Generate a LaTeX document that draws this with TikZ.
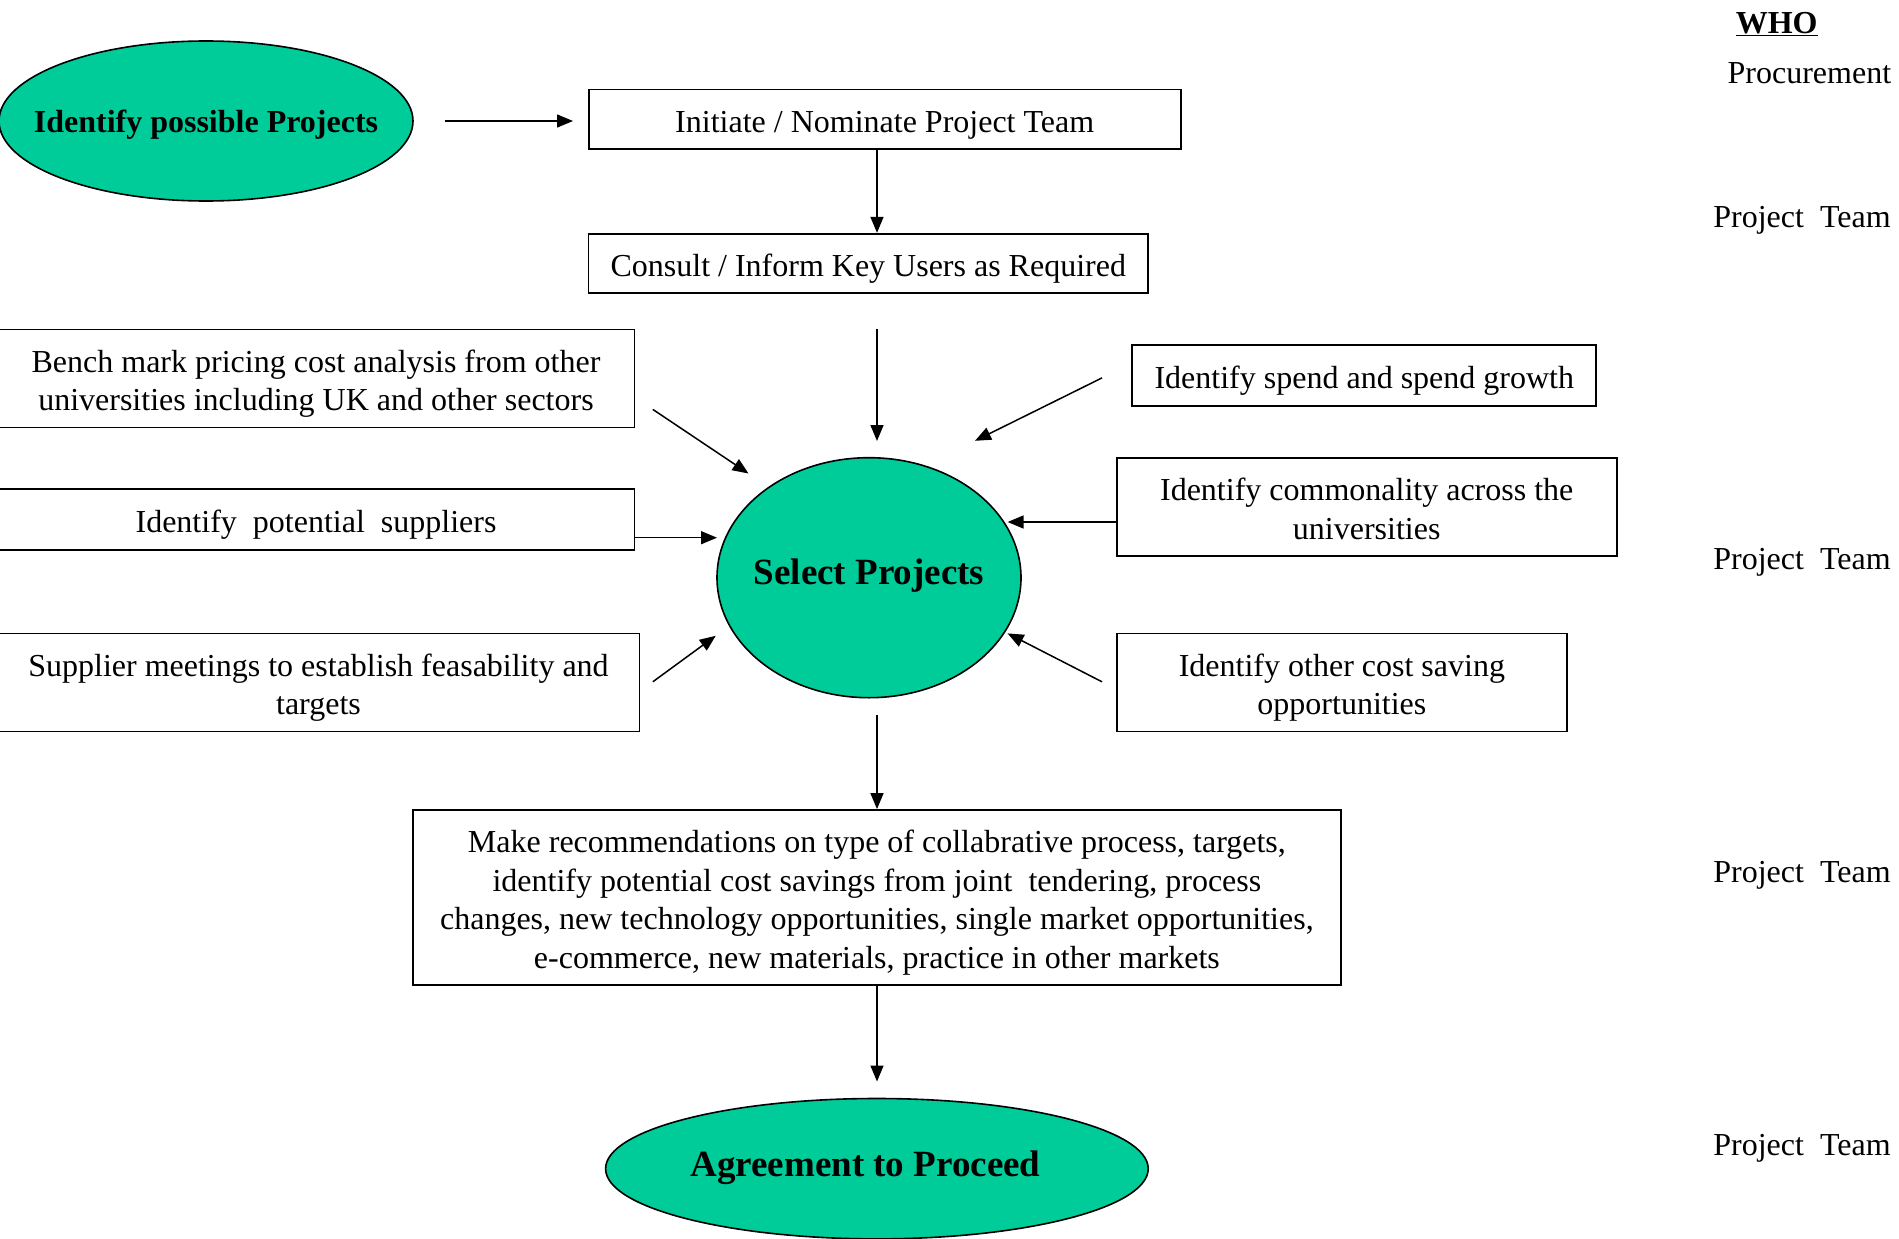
\documentclass[tikz,border=0pt]{standalone}
\usepackage{fontspec}
\setmainfont{Liberation Serif}
\usetikzlibrary{shapes.geometric,arrows.meta}

% text lowered a little inside its box, box size kept
\newcommand{\boxtext}[1]{\raisebox{-5.5pt}[\height][\depth]{\begin{tabular}{@{}c@{}}#1\end{tabular}}}
% text that does not widen the ellipse round it
\newcommand{\ovaltext}[2]{\makebox[0pt]{\raisebox{#1}[\height][\depth]{#2}}}

\begin{document}
\begin{tikzpicture}[x=1pt,y=1pt,yscale=-1,
  box/.style={draw, line width=1.8pt, inner sep=0pt, font=\fontsize{32}{38.5}\selectfont},
  oval/.style={ellipse, draw, line width=1.6pt, fill={rgb, 255:red, 0; green, 204; blue, 153}, inner sep=0pt, font=\fontsize{37}{44}\selectfont\bfseries},
  arr/.style={line width=1.5pt, -{Triangle[length=16pt,width=13pt]}},
  who/.style={font=\fontsize{32}{38.5}\selectfont}]

\useasboundingbox [fill=white] (0,0) rectangle (1899,1239);

%Shape: Ellipse
\node (ident) [oval, minimum width=414, minimum height=160, font=\fontsize{32}{38}\selectfont\bfseries] at (206,121) {\ovaltext{-4pt}{Identify possible Projects}};
\node (select) [oval, minimum width=304, minimum height=240] at (869,577.7) {\ovaltext{2.5pt}{Select Projects}};
\node (agree) [oval, minimum width=542.6, minimum height=140.4] at (876.9,1168.7) {\ovaltext{1pt}{\hspace*{-23pt}Agreement to Proceed}};

%Shape: Rectangle
\node (init) [box, minimum width=592, minimum height=59.4] at (884.7,119.3) {\boxtext{Initiate / Nominate Project Team}};
\node (consult) [box, minimum width=559.5, minimum height=59.3] at (868.3,263.4) {\boxtext{Consult / Inform Key Users as Required}};
\node (bench) [box, minimum width=637, minimum height=98] at (316,378.5) {\boxtext{Bench mark pricing cost analysis from other\\universities including UK and other sectors}};
\node (supp) [box, minimum width=637, minimum height=60.6] at (316,519.6) {\boxtext{Identify\ \ potential\ \ suppliers}};
\node (meet) [box, minimum width=642, minimum height=98] at (318.5,682.5) {\boxtext{Supplier meetings to establish feasability and\\targets}};
\node (spend) [box, minimum width=464, minimum height=60.5] at (1364.3,375.4) {\boxtext{Identify spend and spend growth}};
\node (common) [box, minimum width=500, minimum height=98] at (1366.7,506.8) {\boxtext{Identify commonality across the\\universities}};
\node (other) [box, minimum width=450.6, minimum height=98] at (1341.9,682.5) {\boxtext{Identify other cost saving\\opportunities}};
\node (recom) [box, minimum width=927.7, minimum height=174.6] at (876.9,897.3) {\boxtext{Make recommendations on type of collabrative process, targets,\\identify potential cost savings from joint\ \ tendering, process\\changes, new technology opportunities, single market opportunities,\\e-commerce, new materials, practice in other markets}};

% Text Node
\node (who) [who, font=\fontsize{32}{38.5}\selectfont\bfseries] at (1776.7,24.2) {\underline{WHO}};
% Text Node
\node (proc) [who] at (1809.4,72.7) {Procurement};
% Text Node
\node (team1) [who] at (1802,220.4) {Project\ \ Team};
% Text Node
\node (team2) [who] at (1802,561.9) {Project\ \ Team};
% Text Node
\node (team3) [who] at (1802,875.6) {Project\ \ Team};
% Text Node
\node (team4) [who] at (1802,1148.1) {Project\ \ Team};

%Arrow ends
\coordinate (spine) at (877,0);
\coordinate (c1s) at (444.5,121);
\coordinate (c1e) at (573,121);
\coordinate (c3s) at (877,329);
\coordinate (c3e) at (877,441);
\coordinate (c4s) at (652.8,409.4);
\coordinate (c4e) at (748.5,473.5);
\coordinate (c5e) at (717,537.7);
\coordinate (c6s) at (652.8,681.8);
\coordinate (c6e) at (715.7,635.8);
\coordinate (c7s) at (1102,377.9);
\coordinate (c7e) at (975,440.8);
\coordinate (c8e) at (1007.6,522);
\coordinate (c9s) at (1102,681.8);
\coordinate (c9e) at (1007.6,633.4);
\coordinate (c10s) at (877,714.5);
\coordinate (c11e) at (877,1081.5);

%Straight Lines
\draw [arr] (c1s) -- (c1e);
\draw [arr] (init.south -| spine) -- (consult.north -| spine);
\draw [arr] (c3s) -- (c3e);
\draw [arr] (c4s) -- (c4e);
\draw [arr] (supp.east |- c5e) -- (c5e);
\draw [arr] (c6s) -- (c6e);
\draw [arr] (c7s) -- (c7e);
\draw [arr] (common.west |- c8e) -- (c8e);
\draw [arr] (c9s) -- (c9e);
\draw [arr] (c10s) -- (recom.north -| spine);
\draw [arr] (recom.south -| spine) -- (c11e);

\end{tikzpicture}
\end{document}
